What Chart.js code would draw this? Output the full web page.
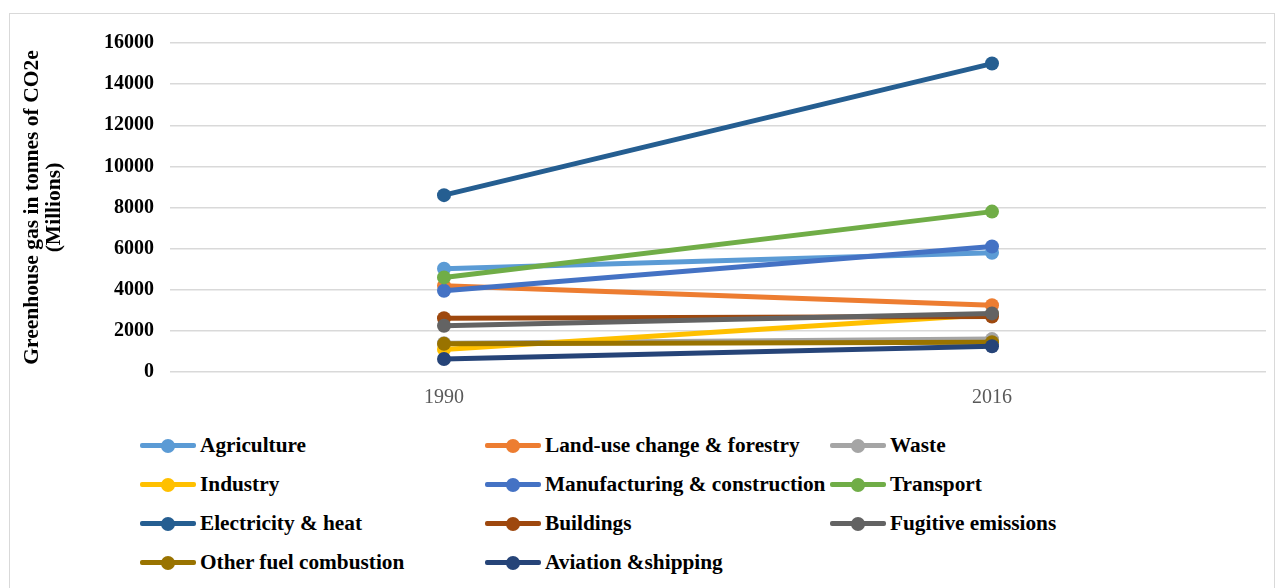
<!DOCTYPE html>
<html>
<head>
<meta charset="utf-8">
<script src="https://cdn.jsdelivr.net/npm/chart.js@4.4.0/dist/chart.umd.min.js"></script>
<style>
  html, body { margin: 0; padding: 0; background: #fff; }
  body { width: 1283px; height: 588px; position: relative; overflow: hidden; font-family: "Liberation Serif", "Times New Roman", serif; }
  #frame { position: absolute; left: 9px; top: 13px; width: 1266px; height: 600px; border: 1px solid #d9d9d9; box-sizing: border-box; }
  #wrap { position: absolute; left: 0; top: 0; width: 1283px; height: 420px; }
  #legend { position: absolute; left: 140px; top: 426px; display: grid; grid-template-columns: 345px 345px 345px; grid-auto-rows: 39px; }
  .item { display: flex; align-items: center; font-weight: bold; font-size: 21.3px; color: #000; white-space: nowrap; }
  .mk { position: relative; width: 56px; height: 14px; margin-right: 4px; flex: none; }
  .mk .ln { position: absolute; left: 0; right: 0; top: 4.5px; height: 5px; border-radius: 2px; }
  .mk .dt { position: absolute; left: 21px; top: 0; width: 14px; height: 14px; border-radius: 50%; }
</style>
</head>
<body>
<div id="frame"></div>
<div id="wrap"><canvas id="c" width="1283" height="420"></canvas></div>
<div id="legend"></div>
<script>
const categories = ["1990", "2016"];
const seriesNames = ["Agriculture", "Land-use change & forestry", "Waste", "Industry", "Manufacturing & construction", "Transport", "Electricity & heat", "Buildings", "Fugitive emissions", "Other fuel combustion", "Aviation &shipping"];
const agriculture = [5020, 5800];
const landUse = [4200, 3250];
const waste = [1400, 1600];
const industry = [1100, 2800];
const manufacturing = [3950, 6100];
const transport = [4600, 7800];
const electricity = [8600, 15000];
const buildings = [2620, 2700];
const fugitive = [2250, 2850];
const otherFuel = [1370, 1450];
const aviation = [630, 1250];
const yTicks = [0, 2000, 4000, 6000, 8000, 10000, 12000, 14000, 16000];
const yTitle = ["Greenhouse gas in tonnes of CO2e", "(Millions)"];

const seriesValues = [agriculture, landUse, waste, industry, manufacturing, transport, electricity, buildings, fugitive, otherFuel, aviation];
const colors = ["#5B9BD5", "#ED7D31", "#A5A5A5", "#FFC000", "#4472C4", "#70AD47", "#255E91", "#9E480E", "#636363", "#997300", "#264478"];

const datasets = seriesNames.map((n, i) => ({
  label: n,
  data: seriesValues[i],
  borderColor: colors[i],
  backgroundColor: colors[i],
  borderWidth: 5,
  pointRadius: 7,
  pointHoverRadius: 7,
  pointBorderWidth: 0,
  pointBackgroundColor: colors[i],
  order: seriesNames.length - i,
  tension: 0
}));

new Chart(document.getElementById('c'), {
  type: 'line',
  data: { labels: categories, datasets },
  options: {
    responsive: false,
    animation: false,
    layout: { padding: { left: 21, right: 17, top: 43, bottom: 0 } },
    plugins: { legend: { display: false }, tooltip: { enabled: false } },
    scales: {
      x: {
        offset: true,
        grid: { display: false, drawTicks: false },
        border: { display: false },
        ticks: { color: '#595959', padding: 14, font: { family: 'Liberation Serif', size: 20 } },
        afterFit: s => { s.height = 48; }
      },
      y: {
        min: 0, max: 16000,
        afterBuildTicks: s => { s.ticks = yTicks.map(v => ({ value: v })); },
        grid: { color: '#d9d9d9', lineWidth: 1.5, drawTicks: false },
        border: { display: false },
        ticks: { color: '#000', padding: 16, callback: v => String(v), font: { family: 'Liberation Serif', size: 20, weight: 'bold' } },
        title: { display: true, text: yTitle, color: '#000', padding: { top: 0, bottom: 0 }, font: { family: 'Liberation Serif', size: 21.5, weight: 'bold', lineHeight: 1.05 } },
        afterFit: s => { s.width = 149; }
      }
    }
  }
});

const lg = document.getElementById('legend');
seriesNames.forEach((n, i) => {
  const it = document.createElement('div');
  it.className = 'item';
  it.innerHTML = '<span class="mk"><span class="ln" style="background:' + colors[i] + '"></span><span class="dt" style="background:' + colors[i] + '"></span></span>';
  it.appendChild(document.createTextNode(n));
  lg.appendChild(it);
});
</script>
</body>
</html>
